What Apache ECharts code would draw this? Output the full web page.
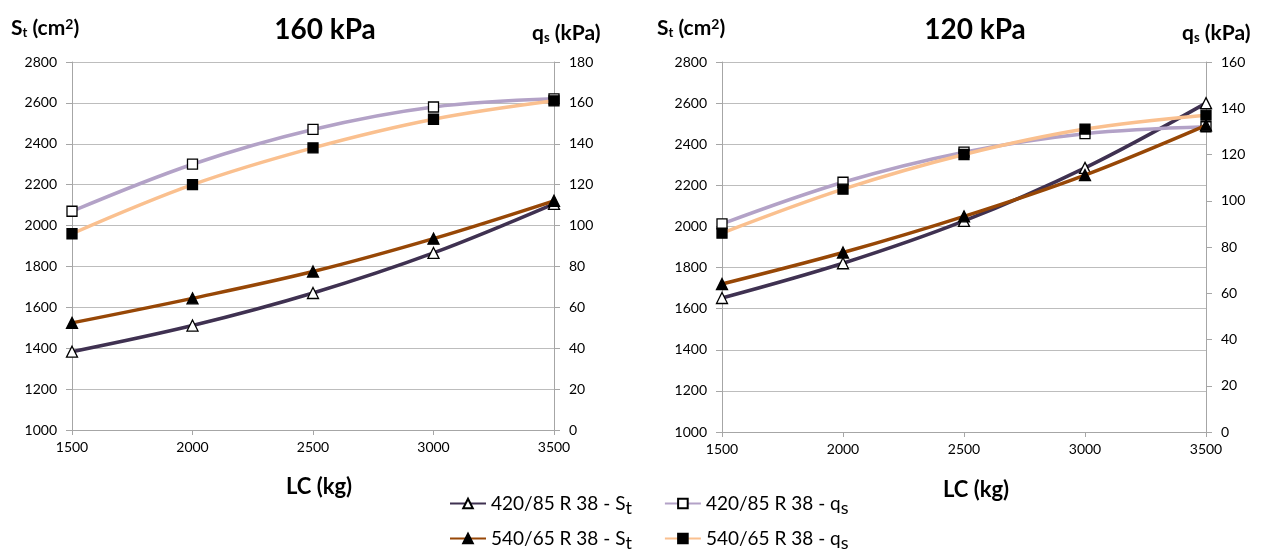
<!DOCTYPE html>
<html>
<head>
<meta charset="utf-8">
<script src="https://cdn.jsdelivr.net/npm/echarts@6/dist/echarts.min.js"></script>
<style>
  html, body { margin: 0; padding: 0; background: #fff; }
  #chart { width: 1261px; height: 551px; }
</style>
</head>
<body>
<div id="chart"></div>
<script>
// Load capacity (kg) on the x axis
const lcValues = [1500, 2000, 2500, 3000, 3500];

// Inflation pressure 160 kPa
const st420_160 = [1383, 1511, 1670, 1866, 2106];   // contact area, cm²
const st540_160 = [1524, 1644, 1775, 1936, 2121];
const qs420_160 = [107, 130, 147, 158, 162];        // contact pressure, kPa
const qs540_160 = [96, 120, 138, 152, 161];

// Inflation pressure 120 kPa
const st420_120 = [1652, 1821, 2027, 2285, 2600];
const st540_120 = [1720, 1873, 2049, 2250, 2492];
const qs420_120 = [90, 108, 121, 129, 132];
const qs540_120 = [86, 105, 120, 131, 137];

const panelTitles = ['160 kPa', '120 kPa'];
const xAxisTitle = 'LC (kg)';

const seriesNames = ['420/85 R 38 - St', '420/85 R 38 - qs', '540/65 R 38 - St', '540/65 R 38 - qs'];
const legendLabels = {
  '420/85 R 38 - St': '420/85 R 38 - S{sub|t}',
  '420/85 R 38 - qs': '420/85 R 38 - q{sub|s}',
  '540/65 R 38 - St': '540/65 R 38 - S{sub|t}',
  '540/65 R 38 - qs': '540/65 R 38 - q{sub|s}'
};

const FONT = 'Lato, "Open Sans", sans-serif';
const GRID_COLOR = '#bdbdbd';
const AXIS_COLOR = '#a6a6a6';

const lineColors = ['#3f3151', '#b3a2c7', '#974706', '#fac08f'];
const markerStyles = [
  { symbol: 'triangle', color: '#ffffff' },
  { symbol: 'rect', color: '#ffffff' },
  { symbol: 'triangle', color: '#000000' },
  { symbol: 'rect', color: '#000000' }
];

const pairs = (ys) => lcValues.map((x, i) => [x, ys[i]]);
const plainNumber = (v) => String(v);

function makeSeries(k, data, xIdx, yIdx) {
  const m = markerStyles[k];
  return {
    name: seriesNames[k],
    type: 'line',
    xAxisIndex: xIdx,
    yAxisIndex: yIdx,
    data: pairs(data),
    smooth: 0.35,
    symbol: m.symbol,
    symbolSize: m.symbol === 'triangle' ? 11 : 10,
    lineStyle: { color: lineColors[k], width: 3.5 },
    itemStyle: { color: m.color, borderColor: '#000000', borderWidth: 1.3 },
    emphasis: { disabled: true },
    z: 2 + k
  };
}

const grids = [
  { left: 72, top: 62, width: 482, height: 368 },
  { left: 722, top: 62, width: 484, height: 370 }
];

const tickLabel = { color: '#000', fontSize: 14, fontFamily: FONT, formatter: plainNumber };

function xAxisFor(gi) {
  return {
    type: 'value', gridIndex: gi, min: 1500, max: 3500, interval: 500,
    axisLine: { show: true, lineStyle: { color: AXIS_COLOR } },
    axisTick: { show: true, length: 5, lineStyle: { color: AXIS_COLOR } },
    splitLine: { show: false },
    axisLabel: Object.assign({ margin: 10 }, tickLabel)
  };
}

function yLeftFor(gi) {
  return {
    type: 'value', gridIndex: gi, position: 'left', min: 1000, max: 2800, interval: 200,
    axisLine: { show: true, lineStyle: { color: AXIS_COLOR } },
    axisTick: { show: true, length: 6, lineStyle: { color: AXIS_COLOR } },
    splitLine: { show: true, lineStyle: { color: GRID_COLOR } },
    axisLabel: Object.assign({ margin: 15 }, tickLabel)
  };
}

function yRightFor(gi, max) {
  return {
    type: 'value', gridIndex: gi, position: 'right', min: 0, max: max, interval: 20,
    axisLine: { show: true, lineStyle: { color: AXIS_COLOR } },
    axisTick: { show: true, length: 6, lineStyle: { color: AXIS_COLOR } },
    splitLine: { show: false },
    axisLabel: Object.assign({ margin: 15 }, tickLabel)
  };
}

const richLabel = {
  m: { fontSize: 21, fontWeight: 'bold', fontFamily: FONT, color: '#000' },
  s: { fontSize: 13, fontWeight: 'bold', fontFamily: FONT, color: '#000', padding: [10, 0, 0, 0] },
  p: { fontSize: 14, fontWeight: 'bold', fontFamily: FONT, color: '#000', padding: [0, 0, 8, 0] }
};

function axisTitle(x, y, text) {
  return {
    type: 'text', x: x, y: y,
    style: { text: text, rich: richLabel, align: 'left', verticalAlign: 'middle', fill: '#000' }
  };
}

function centerText(x, y, text, size) {
  return {
    type: 'text', x: x, y: y,
    style: {
      text: text, fontSize: size, fontWeight: 'bold', fontFamily: FONT,
      fill: '#000', align: 'center', verticalAlign: 'middle'
    }
  };
}

const legendCommon = {
  left: 444, orient: 'horizontal', itemWidth: 36, itemHeight: 12, itemGap: 32,
  selectedMode: false,
  formatter: (name) => legendLabels[name],
  textStyle: {
    fontSize: 19, fontFamily: FONT, color: '#000',
    rich: { sub: { fontSize: 18, fontFamily: FONT, color: '#000', padding: [10, 0, 0, 0] } }
  }
};

const option = {
  animation: false,
  backgroundColor: '#ffffff',
  grid: grids,
  xAxis: [xAxisFor(0), xAxisFor(1)],
  yAxis: [yLeftFor(0), yRightFor(0, 180), yLeftFor(1), yRightFor(1, 160)],
  legend: [
    Object.assign({}, legendCommon, { top: 489, data: [seriesNames[0], seriesNames[1]] }),
    Object.assign({}, legendCommon, { top: 524, data: [seriesNames[2], seriesNames[3]] })
  ],
  series: [
    makeSeries(0, st420_160, 0, 0),
    makeSeries(1, qs420_160, 0, 1),
    makeSeries(2, st540_160, 0, 0),
    makeSeries(3, qs540_160, 0, 1),
    makeSeries(0, st420_120, 1, 2),
    makeSeries(1, qs420_120, 1, 3),
    makeSeries(2, st540_120, 1, 2),
    makeSeries(3, qs540_120, 1, 3)
  ],
  graphic: [
    centerText(325, 30, panelTitles[0], 28),
    centerText(975, 30, panelTitles[1], 28),
    centerText(319, 487, xAxisTitle, 22),
    centerText(976, 490, xAxisTitle, 22),
    axisTitle(11, 28, '{m|S}{s|t}{m| (cm}{p|2}{m|)}'),
    axisTitle(532, 33, '{m|q}{s|s}{m| (kPa)}'),
    axisTitle(657, 28, '{m|S}{s|t}{m| (cm}{p|2}{m|)}'),
    axisTitle(1182, 33, '{m|q}{s|s}{m| (kPa)}')
  ]
};

const chart = echarts.init(document.getElementById('chart'), null, { renderer: 'canvas' });
chart.setOption(option);
</script>
</body>
</html>
